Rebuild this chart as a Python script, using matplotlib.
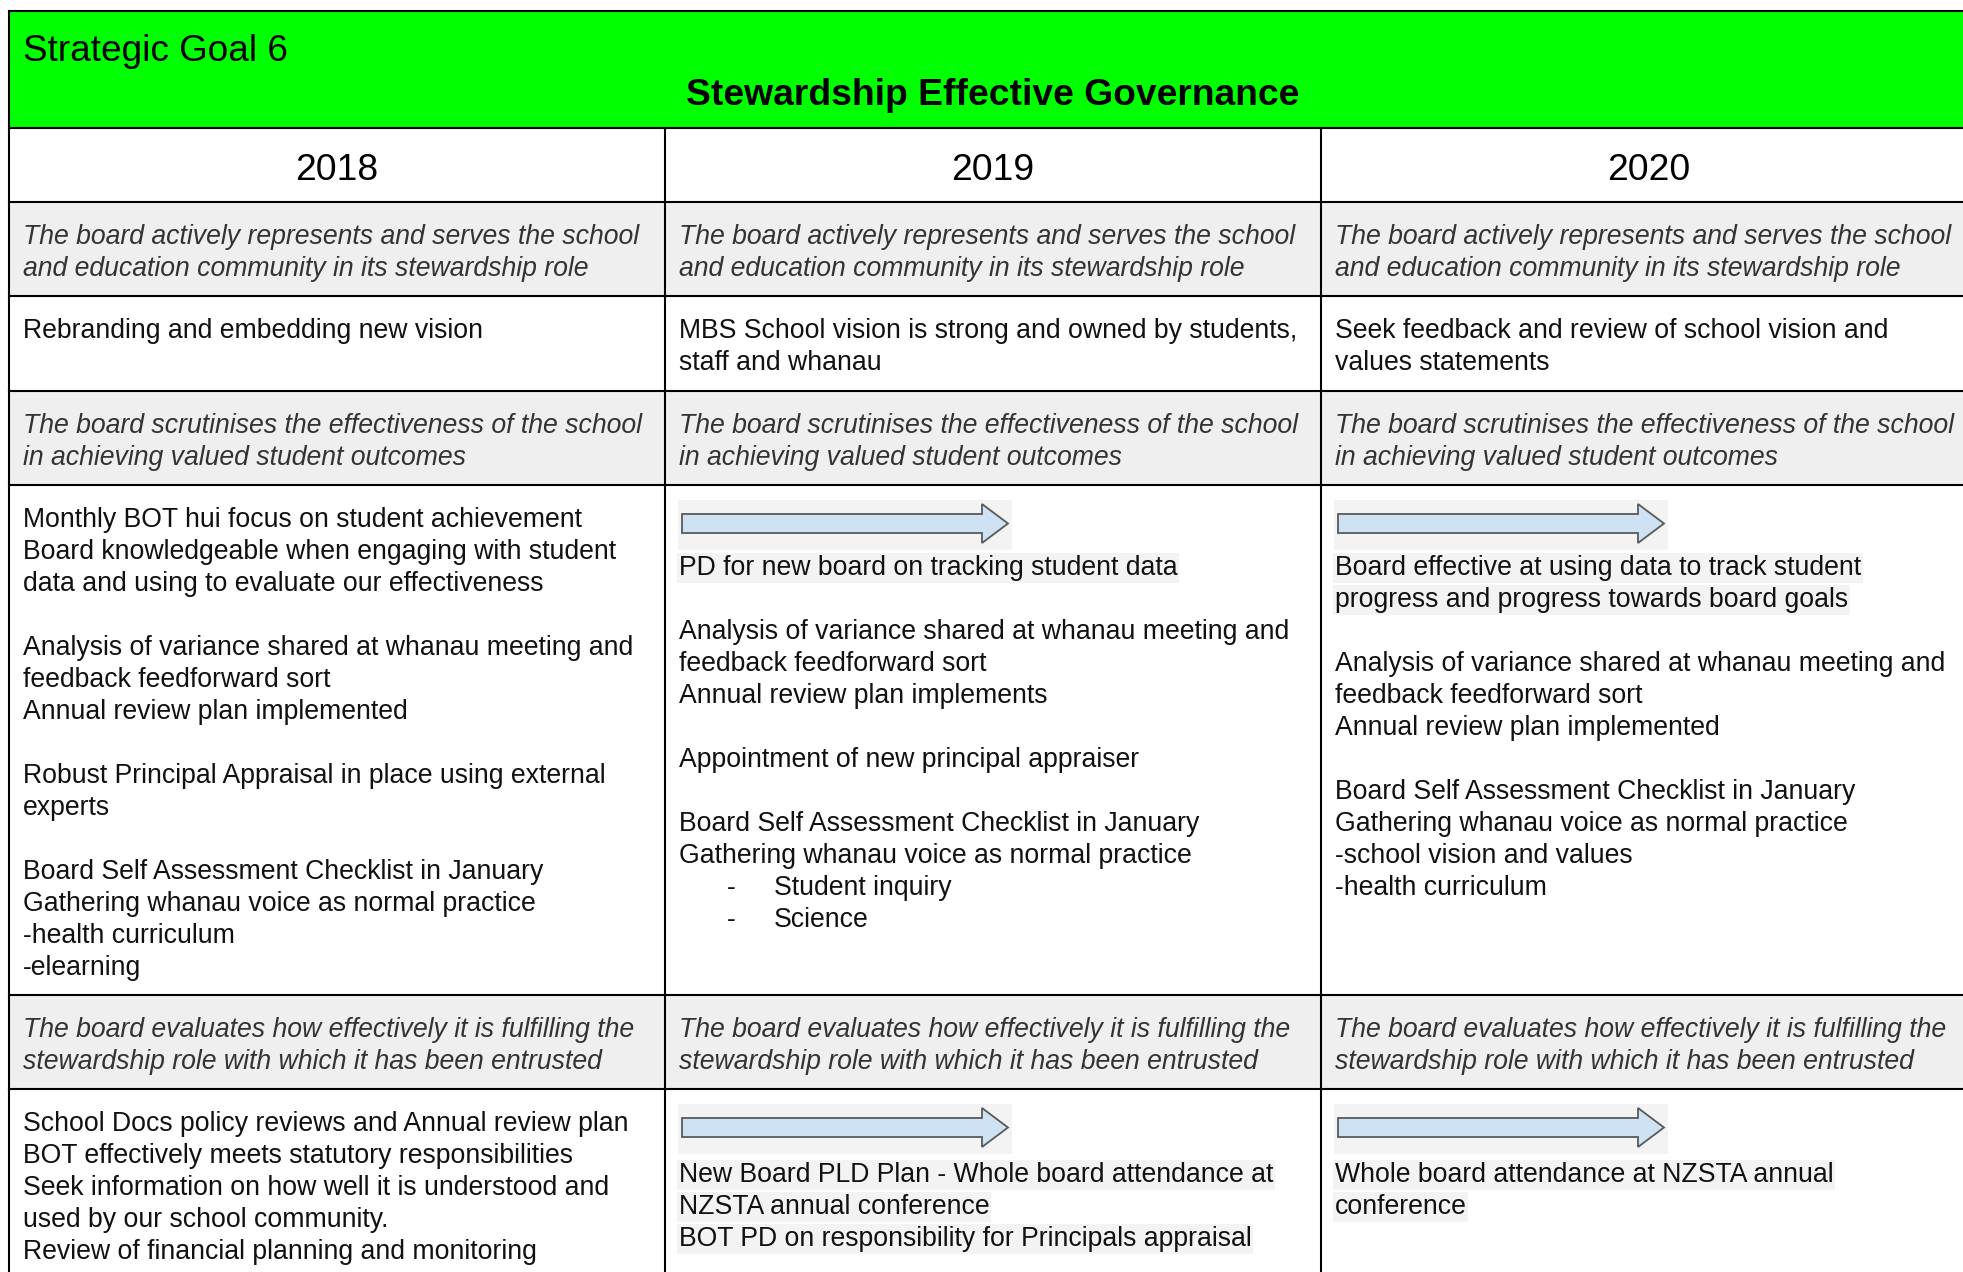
import matplotlib
matplotlib.use('Agg')
import matplotlib.pyplot as plt
import matplotlib.patches as mpatches

plt.rcParams['font.family'] = ['Liberation Sans', 'DejaVu Sans']

# ---- table content ----
section = 'Strategic Goal 6'
title = 'Stewardship Effective Governance'
years = ['2018', '2019', '2020']

goal_actively = ['The board actively represents and serves the school',
                 'and education community in its stewardship role']
goal_scrutinises = ['The board scrutinises the effectiveness of the school',
                    'in achieving valued student outcomes']
goal_evaluates = ['The board evaluates how effectively it is fulfilling the',
                  'stewardship role with which it has been entrusted']

vision = [
    ['Rebranding and embedding new vision'],
    ['MBS School vision is strong and owned by students,', 'staff and whanau'],
    ['Seek feedback and review of school vision and', 'values statements'],
]

outcomes = [
    ['Monthly BOT hui focus on student achievement',
     'Board knowledgeable when engaging with student',
     'data and using to evaluate our effectiveness',
     '',
     'Analysis of variance shared at whanau meeting and',
     'feedback feedforward sort',
     'Annual review plan implemented',
     '',
     'Robust Principal Appraisal in place using external',
     'experts',
     '',
     'Board Self Assessment Checklist in January',
     'Gathering whanau voice as normal practice',
     '-health curriculum',
     '-elearning'],
    ['PD for new board on tracking student data',
     '',
     'Analysis of variance shared at whanau meeting and',
     'feedback feedforward sort',
     'Annual review plan implements',
     '',
     'Appointment of new principal appraiser',
     '',
     'Board Self Assessment Checklist in January',
     'Gathering whanau voice as normal practice',
     '\tStudent inquiry',
     '\tScience'],
    ['Board effective at using data to track student',
     'progress and progress towards board goals',
     '',
     'Analysis of variance shared at whanau meeting and',
     'feedback feedforward sort',
     'Annual review plan implemented',
     '',
     'Board Self Assessment Checklist in January',
     'Gathering whanau voice as normal practice',
     '-school vision and values',
     '-health curriculum'],
]
outcomes_arrow = [False, True, True]
outcomes_shaded = [[], [0], [0, 1]]

stewardship = [
    ['School Docs policy reviews and Annual review plan',
     'BOT effectively meets statutory responsibilities',
     'Seek information on how well it is understood and',
     'used by our school community.',
     'Review of financial planning and monitoring'],
    ['New Board PLD Plan - Whole board attendance at',
     'NZSTA annual conference',
     'BOT PD on responsibility for Principals appraisal'],
    ['Whole board attendance at NZSTA annual',
     'conference'],
]
stewardship_arrow = [False, True, True]
stewardship_shaded = [[], [0, 1, 2], [0, 1]]

# body rows in order: (cells, italic/grey row, arrows, shaded lines)
body_rows = [
    ([goal_actively] * 3, True, [False] * 3, [[]] * 3),
    (vision, False, [False] * 3, [[]] * 3),
    ([goal_scrutinises] * 3, True, [False] * 3, [[]] * 3),
    (outcomes, False, outcomes_arrow, outcomes_shaded),
    ([goal_evaluates] * 3, True, [False] * 3, [[]] * 3),
    (stewardship, False, stewardship_arrow, stewardship_shaded),
]

# ---- layout (pixels) ----
W, H = 1963, 1272
col_x = [9, 665, 1321, 1977]
row_y = [11, 128, 202, 296, 391, 485, 995, 1089, 1300]
pad_x = 14
first_base = 42
arrow_base = [0, 0, 0, 90, 0, 93]
line_h = 32
fs = 19.2
lw = 1.5
green = '#00ff00'
grey_row = '#efefef'
shade = '#f3f3f3'

fig = plt.figure(figsize=(W / 100, H / 100), dpi=100)
ax = fig.add_axes([0, 0, 1, 1])
ax.set_xlim(0, W)
ax.set_ylim(H, 0)
ax.axis('off')

# green header
ax.add_patch(mpatches.Rectangle((col_x[0], row_y[0]), col_x[-1] - col_x[0], row_y[1] - row_y[0],
                                facecolor=green, edgecolor='none'))
ax.text(col_x[0] + pad_x, 61, section, fontsize=26.6, va='baseline', ha='left', color='black')
ax.text((col_x[0] + col_x[-1]) / 2, 105, title, fontsize=26.8, fontweight='bold',
        va='baseline', ha='center', color='black')

# year row
for i, yr in enumerate(years):
    ax.text((col_x[i] + col_x[i + 1]) / 2, 180, yr, fontsize=26.8, va='baseline', ha='center')


def draw_cell(x0, y0, lines, italic, arrow, shaded, abase):
    y = y0 + first_base
    if arrow:
        ax.add_patch(mpatches.Rectangle((x0 + 13, y0 + 15), 334, 50, facecolor=shade, edgecolor='none'))
        ax.add_patch(mpatches.FancyArrow(x0 + 17, y0 + 38.5, 326, 0, width=19, head_width=39,
                                         head_length=26, length_includes_head=True,
                                         facecolor='#cfe2f3', edgecolor='#595959', linewidth=1.3))
        y = y0 + abase
    for k, line in enumerate(lines):
        if line:
            kw = dict(fontsize=fs, va='baseline', ha='left')
            if italic:
                kw.update(style='italic', color='#333333')
            else:
                kw.update(color='#111111')
            if k in shaded:
                kw['bbox'] = dict(boxstyle='square,pad=0.06', facecolor=shade, edgecolor='none')
            if line.startswith('\t'):
                ax.text(x0 + 62, y, '-', **kw)
                ax.text(x0 + 109, y, line[1:], **kw)
            else:
                ax.text(x0 + pad_x, y, line, **kw)
        y += line_h


for r, (cells, italic, arrows, shadeds) in enumerate(body_rows):
    y0 = row_y[r + 2]
    y1 = row_y[r + 3]
    if italic:
        ax.add_patch(mpatches.Rectangle((col_x[0], y0), col_x[-1] - col_x[0], y1 - y0,
                                        facecolor=grey_row, edgecolor='none'))
    for c in range(3):
        draw_cell(col_x[c], y0, cells[c], italic, arrows[c], shadeds[c], arrow_base[r])

# grid lines
for y in row_y[:-1]:
    ax.plot([col_x[0], col_x[-1]], [y, y], color='black', lw=lw, solid_capstyle='projecting')
ax.plot([col_x[0], col_x[0]], [row_y[0], row_y[-1]], color='black', lw=lw)
for x in col_x[1:]:
    ax.plot([x, x], [row_y[1], row_y[-1]], color='black', lw=lw)

fig.savefig('out.png', dpi=100, facecolor='white')
